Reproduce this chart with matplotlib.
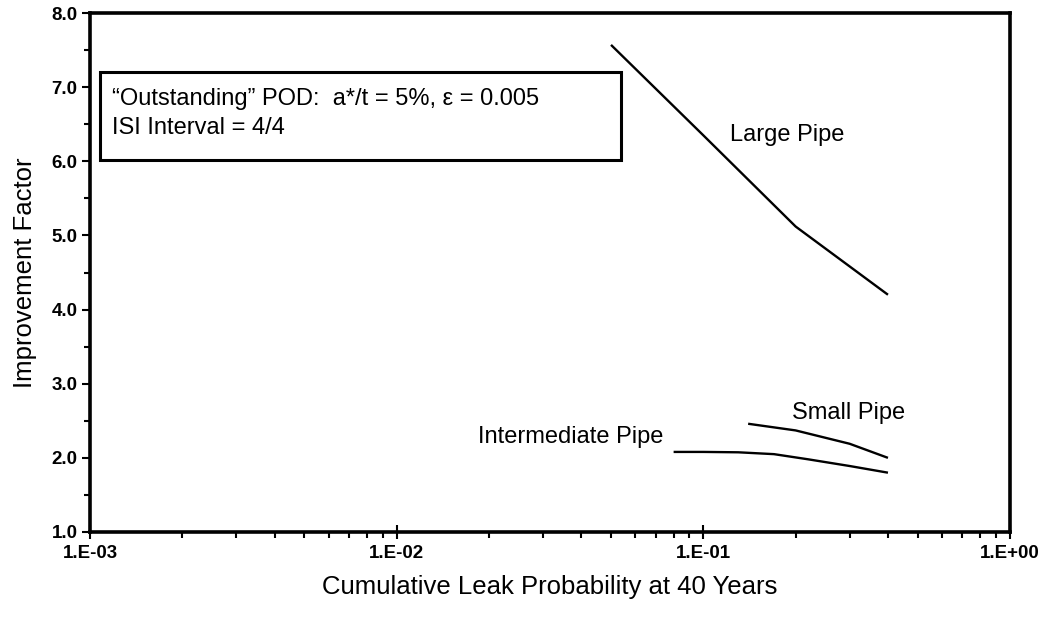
import matplotlib
matplotlib.use("Agg")
import matplotlib.pyplot as plt
from matplotlib.patches import Rectangle
from matplotlib.ticker import FixedLocator, FixedFormatter, LogLocator, NullFormatter, MultipleLocator

plt.rcParams['font.family'] = ['Liberation Sans', 'DejaVu Sans']

# Improvement factor vs. cumulative leak probability at 40 years
large_x = [0.05, 0.1, 0.2, 0.4]
large_y = [7.57, 6.35, 5.12, 4.2]

inter_x = [0.08, 0.1, 0.13, 0.17, 0.22, 0.3, 0.4]
inter_y = [2.08, 2.08, 2.075, 2.05, 1.98, 1.89, 1.80]

small_x = [0.14, 0.2, 0.3, 0.4]
small_y = [2.46, 2.37, 2.19, 2.0]

x_ticks = [1e-3, 1e-2, 1e-1, 1e0]
x_tick_labels = ["1.E-03", "1.E-02", "1.E-01", "1.E+00"]
y_ticks = [1, 2, 3, 4, 5, 6, 7, 8]
y_tick_labels = ["1.0", "2.0", "3.0", "4.0", "5.0", "6.0", "7.0", "8.0"]

fig = plt.figure(figsize=(10.5, 6.17), dpi=100)
ax = fig.add_axes([90 / 1050, 1 - 532 / 617, 920 / 1050, 519 / 617])

lw = 1.7
ax.plot(large_x, large_y, color="black", lw=lw, solid_capstyle="butt")
ax.plot(inter_x, inter_y, color="black", lw=lw, solid_capstyle="butt")
ax.plot(small_x, small_y, color="black", lw=lw, solid_capstyle="butt")

ax.set_xscale("log")
ax.set_xlim(1e-3, 1e0)
ax.set_ylim(1.0, 8.0)

ax.xaxis.set_major_locator(FixedLocator(x_ticks))
ax.xaxis.set_major_formatter(FixedFormatter(x_tick_labels))
ax.xaxis.set_minor_locator(LogLocator(base=10, subs=range(2, 10), numticks=20))
ax.xaxis.set_minor_formatter(NullFormatter())
ax.yaxis.set_major_locator(FixedLocator(y_ticks))
ax.yaxis.set_major_formatter(FixedFormatter(y_tick_labels))
ax.yaxis.set_minor_locator(MultipleLocator(0.5))

for s in ax.spines.values():
    s.set_linewidth(2.6)

ax.tick_params(axis="x", which="major", direction="inout", length=10, width=1.5,
               labelsize=13.5, pad=4)
ax.tick_params(axis="x", which="minor", direction="out", length=4, width=1.5)
ax.tick_params(axis="y", which="major", direction="out", length=6, width=1.5,
               labelsize=13.5, pad=3)
ax.tick_params(axis="y", which="minor", direction="out", length=4, width=1.5)
for lab in ax.get_xticklabels() + ax.get_yticklabels():
    lab.set_fontweight("bold")

ax.set_xlabel("Cumulative Leak Probability at 40 Years", fontsize=18.5, labelpad=10)
ax.set_ylabel("Improvement Factor", fontsize=18.5, labelpad=10)

# Annotation box with inspection parameters
ax.add_patch(Rectangle((0.011, 0.717), 0.566, 0.169, transform=ax.transAxes,
                       fill=False, lw=2.2, ec="black"))
ax.text(0.024, 0.834, "\u201cOutstanding\u201d POD:  a*/t = 5%, \u03b5 = 0.005",
        transform=ax.transAxes, fontsize=17, va="center", ha="left")
ax.text(0.024, 0.779, "ISI Interval = 4/4",
        transform=ax.transAxes, fontsize=17, va="center", ha="left")

# Curve labels
ax.text(0.188, 6.35, "Large Pipe", fontsize=17, ha="center", va="center")
ax.text(0.297, 2.6, "Small Pipe", fontsize=17, ha="center", va="center")
ax.text(0.037, 2.28, "Intermediate Pipe", fontsize=17, ha="center", va="center")

fig.savefig("out.png", dpi=100)
